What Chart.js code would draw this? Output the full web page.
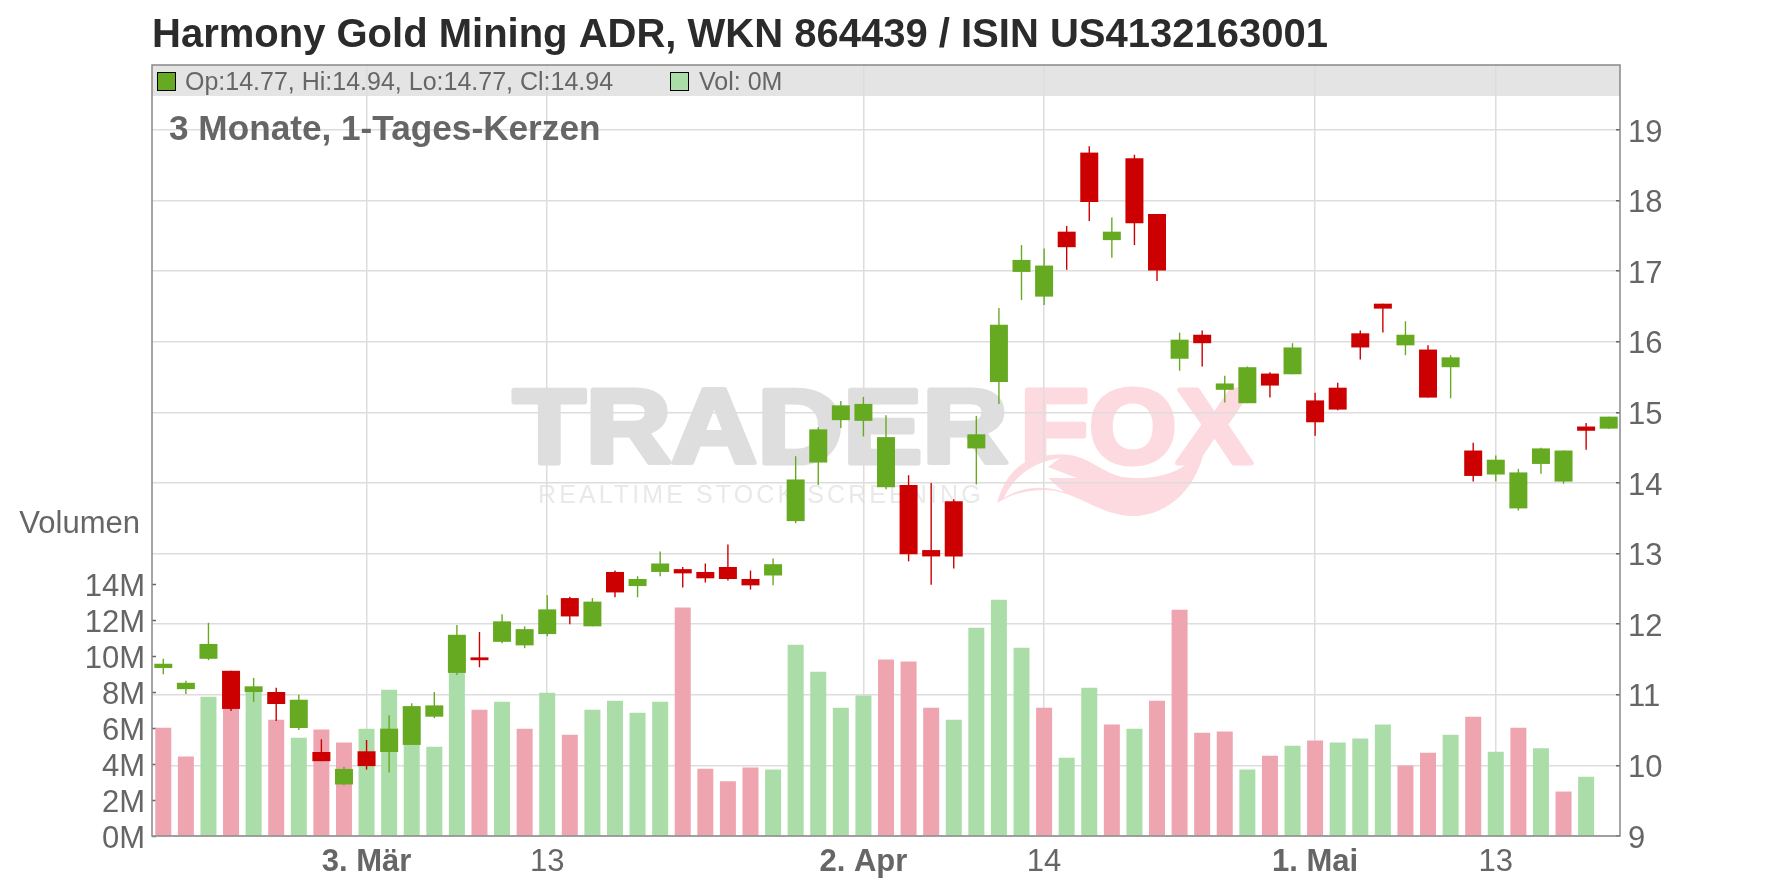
<!DOCTYPE html>
<html>
<head>
<meta charset="utf-8">
<title>Harmony Gold Mining ADR</title>
<script src="https://cdn.jsdelivr.net/npm/chart.js@4/dist/chart.umd.min.js"></script>
<style>
    html, body { margin: 0; padding: 0; background: #fff; }
    canvas { display: block; }
</style>
</head>
<body>
<canvas id="chart" width="1776" height="888"></canvas>
<script>
// --- Data ---
const categories = [
    '18.2.', '19.2.', '20.2.', '21.2.', '24.2.', '25.2.', '26.2.', '27.2.', '28.2.',
    '3.3.', '4.3.', '5.3.', '6.3.', '7.3.', '10.3.', '11.3.', '12.3.', '13.3.', '14.3.',
    '17.3.', '18.3.', '19.3.', '20.3.', '21.3.', '24.3.', '25.3.', '26.3.', '27.3.', '28.3.',
    '31.3.', '1.4.', '2.4.', '3.4.', '4.4.', '7.4.', '8.4.', '9.4.', '10.4.', '11.4.',
    '14.4.', '15.4.', '16.4.', '17.4.', '21.4.', '22.4.', '23.4.', '24.4.', '25.4.',
    '28.4.', '29.4.', '30.4.', '1.5.', '2.5.', '5.5.', '6.5.', '7.5.', '8.5.', '9.5.',
    '12.5.', '13.5.', '14.5.', '15.5.', '16.5.', '19.5.', '20.5.'
];
const opens = [
    11.38, 11.08, 11.51, 11.34, 11.04, 11.04, 10.53, 10.19, 9.73, 10.2, 10.19, 10.29, 10.69,
    11.31, 11.53, 11.75, 11.7, 11.86, 12.37, 11.97, 12.74, 12.54, 12.74, 12.78, 12.74, 12.81,
    12.64, 12.69, 13.46, 14.29, 14.89, 14.88, 13.94, 13.97, 13.05, 13.74, 14.49, 15.43, 16.99,
    16.64, 17.56, 18.68, 17.44, 18.6, 17.81, 15.76, 16.1, 15.32, 15.13, 15.55, 15.54, 15.17,
    15.35, 16.12, 16.54, 15.95, 15.89, 15.64, 14.46, 14.12, 13.64, 14.27, 14.02, 14.8, 14.77
];
const highs = [
    11.51, 11.2, 12.02, 11.34, 11.24, 11.1, 11.0, 10.37, 9.98, 10.36, 10.71, 10.88, 11.04,
    11.99, 11.89, 12.14, 11.97, 12.41, 12.39, 12.37, 12.76, 12.68, 13.03, 12.81, 12.86, 13.13,
    12.76, 12.93, 14.38, 14.79, 15.16, 15.22, 14.96, 14.11, 14.0, 13.77, 14.95, 16.48, 17.37,
    17.32, 17.64, 18.77, 17.76, 18.65, 17.81, 16.13, 16.16, 15.52, 15.65, 15.57, 15.98, 15.28,
    15.42, 16.16, 16.54, 16.29, 15.95, 15.81, 14.57, 14.39, 14.2, 14.5, 14.46, 14.85, 14.94
];
const lows = [
    11.29, 11.01, 11.49, 10.77, 10.9, 10.63, 10.5, 10.06, 9.72, 9.94, 9.9, 10.29, 10.67,
    11.28, 11.39, 11.73, 11.66, 11.83, 12.0, 11.97, 12.38, 12.38, 12.68, 12.52, 12.59, 12.62,
    12.49, 12.55, 13.43, 13.97, 14.78, 14.66, 13.91, 12.89, 12.56, 12.79, 13.98, 15.12, 16.59,
    16.52, 17.02, 17.71, 17.19, 17.37, 16.86, 15.59, 15.65, 15.14, 15.13, 15.21, 15.54, 14.67,
    15.03, 15.75, 16.13, 15.81, 15.21, 15.2, 14.02, 14.02, 13.61, 14.13, 13.99, 14.47, 14.77
];
const closes = [
    11.44, 11.17, 11.72, 10.8, 11.12, 10.87, 10.93, 10.06, 9.95, 9.99, 10.52, 10.84, 10.85,
    11.85, 11.49, 12.04, 11.93, 12.21, 12.11, 12.32, 12.45, 12.64, 12.86, 12.72, 12.65, 12.64,
    12.55, 12.85, 14.05, 14.76, 15.1, 15.12, 14.65, 12.99, 12.96, 12.96, 14.69, 16.24, 17.16,
    17.08, 17.34, 17.98, 17.56, 17.68, 17.01, 16.03, 15.98, 15.41, 15.64, 15.38, 15.92, 14.86,
    15.04, 15.92, 16.47, 16.1, 15.21, 15.78, 14.1, 14.33, 14.15, 14.49, 14.46, 14.74, 14.94
];
// volume in millions
const volumes = [
    6.02, 4.41, 7.74, 7.2, 8.1, 6.46, 5.46, 5.91, 5.19, 5.96, 8.13, 5.2, 4.96,
    9.1, 7.02, 7.46, 5.96, 7.96, 5.63, 7.02, 7.52, 6.85, 7.46, 12.69, 3.74, 3.04,
    3.8, 3.69, 10.63, 9.13, 7.13, 7.8, 9.8, 9.69, 7.13, 6.46, 11.57, 13.13, 10.46,
    7.13, 4.35, 8.24, 6.19, 5.96, 7.52, 12.57, 5.74, 5.8, 3.69, 4.46, 5.02, 5.3,
    5.19, 5.41, 6.19, 3.91, 4.63, 5.63, 6.63, 4.68, 6.01, 4.87, 2.47, 3.29, 0
];
// 1 = green volume bar, 0 = red volume bar (does not always follow the candle)
const volumeUp = [
    0, 0, 1, 0, 1, 0, 1, 0, 0, 1, 1, 1, 1,
    1, 0, 1, 0, 1, 0, 1, 1, 1, 1, 0, 0, 0,
    0, 1, 1, 1, 1, 1, 0, 0, 0, 1, 1, 1, 1,
    0, 1, 1, 0, 1, 0, 0, 0, 0, 1, 0, 1, 0,
    1, 1, 1, 0, 0, 1, 0, 1, 0, 1, 0, 1, 1
];
const dateTicks = { '3.3.': '3. Mär', '13.3.': '13', '2.4.': '2. Apr', '14.4.': '14', '1.5.': '1. Mai', '13.5.': '13' };
const boldTicks = ['3. Mär', '2. Apr', '1. Mai'];

const titleText = 'Harmony Gold Mining ADR, WKN 864439 / ISIN US4132163001';
const subtitleText = '3 Monate, 1-Tages-Kerzen';
const ohlcText = 'Op:14.77, Hi:14.94, Lo:14.77, Cl:14.94';
const volText = 'Vol: 0M';

// --- Styles ---
const GREEN = '#66aa22';
const RED = '#cc0000';
const VOL_GREEN = '#abdda9';
const VOL_RED = '#efa5af';
const GRID = '#dddddd';
const TEXT = '#666666';
const FONT = '"Liberation Sans", Arial, sans-serif';

const candleColors = opens.map((o, i) => closes[i] >= o ? GREEN : RED);

// --- Watermark, legend strip, frame and loose labels ---
function drawLogoWord(ctx, word, x, y, width, fill) {
    ctx.save();
    ctx.translate(x, y);
    ctx.scale(width / ctx.measureText(word).width, 1);
    ctx.fillStyle = fill;
    ctx.strokeStyle = fill;
    ctx.lineWidth = 5;
    ctx.lineJoin = 'round';
    ctx.strokeText(word, 0, 0);
    ctx.fillText(word, 0, 0);
    ctx.restore();
}

function drawWatermark(ctx) {
    ctx.save();
    ctx.textBaseline = 'alphabetic';
    ctx.textAlign = 'left';
    ctx.font = 'bold 106px ' + FONT;

    const grey = ctx.createLinearGradient(0, 388, 0, 465);
    grey.addColorStop(0, '#dedede');
    grey.addColorStop(1, '#eeeeee');
    drawLogoWord(ctx, 'TRADER', 513, 463, 495, grey);
    drawLogoWord(ctx, 'FOX', 1020, 463, 232, '#fddadf');

    // fox tail
    ctx.fillStyle = '#fddadf';
    ctx.beginPath();
    ctx.moveTo(997, 503);
    ctx.bezierCurveTo(1005, 475, 1020, 458, 1050, 455);
    ctx.bezierCurveTo(1085, 450, 1095, 470, 1122, 477);
    ctx.bezierCurveTo(1160, 482, 1185, 470, 1204, 450);
    ctx.bezierCurveTo(1198, 485, 1170, 516, 1133, 516);
    ctx.bezierCurveTo(1100, 516, 1075, 490, 1045, 490);
    ctx.bezierCurveTo(1025, 490, 1010, 495, 997, 503);
    ctx.fill();
    ctx.fillStyle = '#ffffff';
    ctx.beginPath();
    ctx.moveTo(1004, 498);
    ctx.bezierCurveTo(1012, 480, 1030, 462, 1060, 458);
    ctx.lineTo(1048, 467);
    ctx.lineTo(1077, 478);
    ctx.lineTo(1048, 478);
    ctx.lineTo(1064, 492);
    ctx.bezierCurveTo(1040, 484, 1020, 488, 1004, 498);
    ctx.fill();

    // tagline
    ctx.fillStyle = '#e9e9e9';
    ctx.font = '25px ' + FONT;
    ctx.letterSpacing = '3.1px';
    ctx.fillText('REALTIME STOCK SCREENING', 538, 503);
    ctx.restore();
}

const decorPlugin = {
    id: 'decor',
    beforeDraw(chart) {
        const { ctx, chartArea: a } = chart;
        ctx.save();
        ctx.fillStyle = '#e4e4e4';
        ctx.fillRect(a.left, a.top, a.right - a.left, 31);
        ctx.restore();
        drawWatermark(ctx);
    },
    afterDraw(chart) {
        const { ctx, chartArea: a } = chart;
        ctx.save();
        // frame
        ctx.strokeStyle = '#888888';
        ctx.lineWidth = 1.5;
        ctx.strokeRect(a.left, a.top, a.right - a.left, a.bottom - a.top);
        // legend strip
        ctx.lineWidth = 1;
        ctx.strokeStyle = '#000000';
        ctx.fillStyle = GREEN;
        ctx.fillRect(157.5, 72.5, 18, 18);
        ctx.strokeRect(157.5, 72.5, 18, 18);
        ctx.fillStyle = VOL_GREEN;
        ctx.fillRect(670.5, 72.5, 18, 18);
        ctx.strokeRect(670.5, 72.5, 18, 18);
        ctx.fillStyle = TEXT;
        ctx.textBaseline = 'middle';
        ctx.textAlign = 'left';
        ctx.font = '25px ' + FONT;
        ctx.fillText(ohlcText, 185, 83);
        ctx.fillText(volText, 699, 83);
        // subtitle
        ctx.font = 'bold 35.2px ' + FONT;
        ctx.fillText(subtitleText, 169, 130);
        // volume axis caption
        ctx.textAlign = 'right';
        ctx.font = '31px ' + FONT;
        ctx.fillText('Volumen', 140, 524);
        ctx.restore();
    }
};

// --- Chart ---
new Chart(document.getElementById('chart'), {
    data: {
        labels: categories,
        datasets: [
            {
                type: 'bar',
                label: 'Kerze',
                yAxisID: 'price',
                data: opens.map((o, i) => [o, closes[i]]),
                backgroundColor: candleColors,
                barThickness: 18,
                grouped: false,
                inflateAmount: 0,
                order: 1
            },
            {
                type: 'bar',
                label: 'Docht',
                yAxisID: 'price',
                data: lows.map((l, i) => [l, highs[i]]),
                backgroundColor: candleColors,
                barThickness: 1.4,
                grouped: false,
                inflateAmount: 0,
                order: 2
            },
            {
                type: 'bar',
                label: 'Volumen',
                yAxisID: 'volume',
                data: volumes,
                backgroundColor: volumeUp.map(u => u ? VOL_GREEN : VOL_RED),
                barThickness: 16,
                grouped: false,
                inflateAmount: 0,
                order: 3
            }
        ]
    },
    options: {
        responsive: false,
        animation: false,
        devicePixelRatio: 1,
        layout: { padding: 0 },
        plugins: {
            legend: { display: false },
            tooltip: { enabled: false },
            title: {
                display: true,
                text: titleText,
                align: 'start',
                fullSize: false,
                color: '#2b2b2b',
                font: { family: FONT, size: 40, weight: 'bold', lineHeight: 1.2 },
                padding: { top: 12, bottom: 5 }
            }
        },
        scales: {
            x: {
                type: 'category',
                offset: true,
                afterFit: s => { s.height = 52; },
                border: { display: false },
                grid: {
                    offset: false,
                    drawTicks: false,
                    lineWidth: 1.5,
                    color: ctx => dateTicks[categories[ctx.index]] ? GRID : 'transparent'
                },
                ticks: {
                    autoSkip: false,
                    maxRotation: 0,
                    padding: 8,
                    color: TEXT,
                    font: ctx => ({
                        family: FONT,
                        size: 31,
                        weight: boldTicks.includes(dateTicks[categories[ctx.index]]) ? 'bold' : 'normal'
                    }),
                    callback: (v, i) => dateTicks[categories[i]] || ''
                }
            },
            volume: {
                type: 'linear',
                position: 'left',
                min: 0,
                max: 771 / 18,
                afterFit: s => { s.width = 152; },
                afterBuildTicks: s => { s.ticks = s.ticks.filter(t => t.value <= 14); },
                border: { display: false },
                grid: { drawOnChartArea: false, tickLength: -4, tickColor: '#666666', tickWidth: 1.5 },
                ticks: {
                    stepSize: 2,
                    autoSkip: false,
                    padding: 11,
                    labelOffset: 3,
                    color: TEXT,
                    font: { family: FONT, size: 31 },
                    callback: v => v + 'M'
                }
            },
            price: {
                type: 'linear',
                position: 'right',
                min: 9,
                max: 9 + 771 / 70.6,
                afterFit: s => { s.width = 156; },
                afterBuildTicks: s => { s.ticks = s.ticks.filter(t => t.value <= 19); },
                border: { display: false },
                grid: { color: GRID, lineWidth: 1.5, tickLength: -4, tickColor: '#666666', tickWidth: 1.5 },
                ticks: {
                    stepSize: 1,
                    autoSkip: false,
                    padding: 12,
                    labelOffset: 3,
                    color: TEXT,
                    font: { family: FONT, size: 31 }
                }
            }
        }
    },
    plugins: [decorPlugin]
});
</script>
</body>
</html>
